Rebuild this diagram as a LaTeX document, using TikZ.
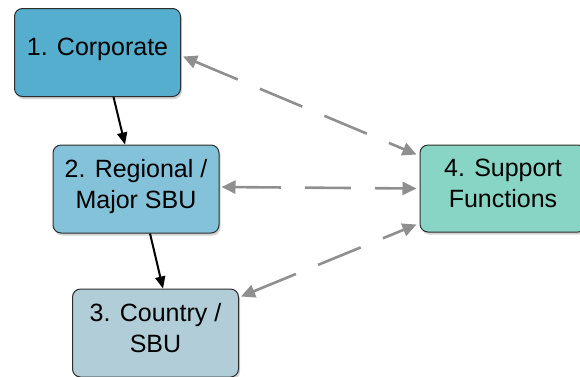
\documentclass[tikz,border=0pt]{standalone}
\usepackage{fontspec}
\setmainfont{Liberation Sans}
\usepackage{tikz}
\usetikzlibrary{
    arrows.meta,
    shadows
}
\usepackage{xcolor}
\definecolor{corpblue}{RGB}{86,174,206}
\definecolor{regionblue}{RGB}{132,194,217}
\definecolor{countryblue}{RGB}{176,205,216}
\definecolor{supportteal}{RGB}{137,213,197}
\definecolor{linkgray}{RGB}{143,143,143}
\definecolor{edgegray}{RGB}{45,45,45}

\begin{document}
\begin{tikzpicture}[x=1pt, y=-1pt,
    unitbox/.style={draw=edgegray, line width=1pt, rounded corners=8pt,
        minimum width=166pt, minimum height=88pt, align=center,
        text depth=11pt,
        font=\fontsize{25}{31}\selectfont,
        drop shadow={opacity=0.35, shadow xshift=1.5pt, shadow yshift=-2.5pt}},
    reports/.style={line width=2pt, -{Triangle[length=12pt, width=10pt]}},
    supports/.style={linkgray, line width=2.6pt, dash pattern=on 46pt off 24pt,
        {Triangle[length=14pt, width=13pt]}-{Triangle[length=14pt, width=13pt]}}
]
    \useasboundingbox (0,0) rectangle (580,376);

    % Line units
    \node[unitbox, fill=corpblue] (corp) at (97.5,52.5) {1. Corporate};
    \node[unitbox, fill=regionblue] (regional) at (136,189) {2. Regional /\\Major SBU};
    \node[unitbox, fill=countryblue] (country) at (155.5,333) {3. Country /\\SBU};

    % Shared services
    \node[unitbox, fill=supportteal, minimum height=87pt] (support) at (503,188.5) {4. Support\\Functions};

    % Reporting lines
    \draw[reports] ([xshift=16pt]corp.south) -- ([xshift=-11pt]regional.north);
    \draw[reports] ([xshift=14pt]regional.south) -- ([xshift=7.5pt]country.north);

    % Support links
    \draw[supports] ([xshift=2pt, yshift=-4pt]corp.east) -- ([xshift=-3pt, yshift=-10pt]support.north west);
    \draw[supports] ([xshift=2pt, yshift=2pt]regional.east) -- ([xshift=-3pt]support.west);
    \draw[supports] ([xshift=2pt, yshift=-8pt]country.north east) -- ([xshift=-3pt, yshift=8pt]support.south west);

\end{tikzpicture}
\end{document}
